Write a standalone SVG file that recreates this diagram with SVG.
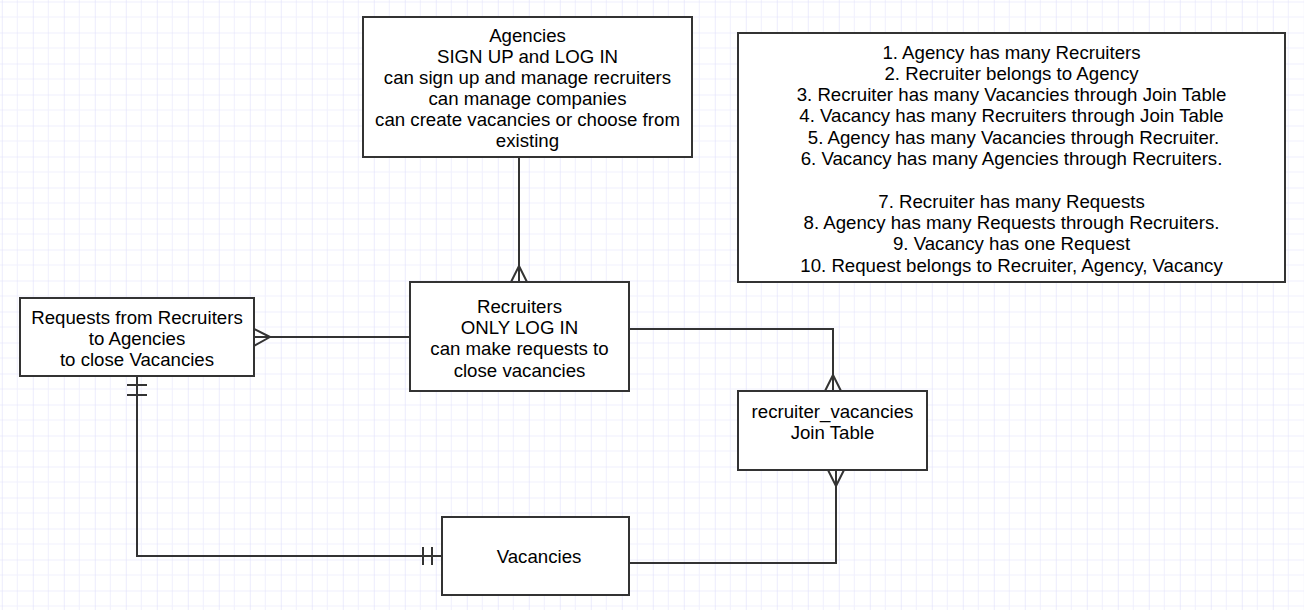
<svg xmlns="http://www.w3.org/2000/svg" width="1304" height="610" viewBox="0 0 1304 610">
<style>
.box{fill:#fff;stroke:#333;stroke-width:2}
.t{font-family:"Liberation Sans",Arial,sans-serif;font-size:18.67px;fill:#000;text-anchor:middle}
.c{fill:none;stroke:#333;stroke-width:2}
</style>
<defs>
<pattern id="grid" x="1.8" y="1.5" width="31" height="31" patternUnits="userSpaceOnUse">
<path d="M15.5 0V31M0 15.5H31" stroke="#f0f0fd" stroke-width="1" fill="none"/>
<path d="M0 0V31M0 0H31" stroke="#e0e0fa" stroke-width="1.2" fill="none"/>
</pattern>
</defs>
<rect width="1304" height="610" fill="#fff"/>
<rect width="1304" height="610" fill="url(#grid)"/>
<g id="connectors">
<path class="c" d="M519 157V282"/>
<path class="c" d="M519 266L511 282M519 266L527 282"/>
<path class="c" d="M254 337H410"/>
<path class="c" d="M270 337L254 329M270 337L254 346"/>
<path class="c" d="M137 376V556H442"/>
<path class="c" d="M127 385H147M127 395H147"/>
<path class="c" d="M423 547V565M432 547V565"/>
<path class="c" d="M629 329H833V391"/>
<path class="c" d="M833 375L825 391M833 375L841 391"/>
<path class="c" d="M629 563H836V470"/>
<path class="c" d="M836 486L828 470M836 486L844 470"/>
</g>
<g id="agencies">
<rect class="box" x="363" y="17" width="329" height="140"/>
<text class="t" x="527.5" y="41.5">Agencies</text>
<text class="t" x="527.5" y="62.5">SIGN UP and LOG IN</text>
<text class="t" x="527.5" y="83.5">can sign up and manage recruiters</text>
<text class="t" x="527.5" y="104.5">can manage companies</text>
<text class="t" x="527.5" y="125.5">can create vacancies or choose from</text>
<text class="t" x="527.5" y="146.5">existing</text>
</g>
<g id="rules">
<rect class="box" x="738" y="33" width="547" height="249"/>
<text class="t" x="1011.5" y="58.5">1. Agency has many Recruiters</text>
<text class="t" x="1011.5" y="79.8">2. Recruiter belongs to Agency</text>
<text class="t" x="1011.5" y="101.1">3. Recruiter has many Vacancies through Join Table</text>
<text class="t" x="1011.5" y="122.4">4. Vacancy has many Recruiters through Join Table</text>
<text class="t" x="1013.5" y="143.7">5. Agency has many Vacancies through Recruiter.</text>
<text class="t" x="1011.5" y="165">6. Vacancy has many Agencies through Recruiters.</text>
<text class="t" x="1011.5" y="207.6">7. Recruiter has many Requests</text>
<text class="t" x="1011.5" y="228.9">8. Agency has many Requests through Recruiters.</text>
<text class="t" x="1011.5" y="250.2">9. Vacancy has one Request</text>
<text class="t" x="1011.5" y="271.5">10. Request belongs to Recruiter, Agency, Vacancy</text>
</g>
<g id="recruiters">
<rect class="box" x="410" y="282" width="219" height="109"/>
<text class="t" x="519.5" y="312.5">Recruiters</text>
<text class="t" x="519.5" y="333.5">ONLY LOG IN</text>
<text class="t" x="519.5" y="354.5">can make requests to</text>
<text class="t" x="519.5" y="376.5">close vacancies</text>
</g>
<g id="requests">
<rect class="box" x="20" y="298" width="234" height="78"/>
<text class="t" x="137" y="323.5">Requests from Recruiters</text>
<text class="t" x="137" y="344.5">to Agencies</text>
<text class="t" x="137" y="365.5">to close Vacancies</text>
</g>
<g id="recruiter_vacancies">
<rect class="box" x="738" y="391" width="189" height="79"/>
<text class="t" x="832.5" y="417.5">recruiter_vacancies</text>
<text class="t" x="832.5" y="438.5">Join Table</text>
</g>
<g id="vacancies">
<rect class="box" x="442" y="517" width="187" height="78"/>
<text class="t" x="539" y="562.5">Vacancies</text>
</g>
</svg>
